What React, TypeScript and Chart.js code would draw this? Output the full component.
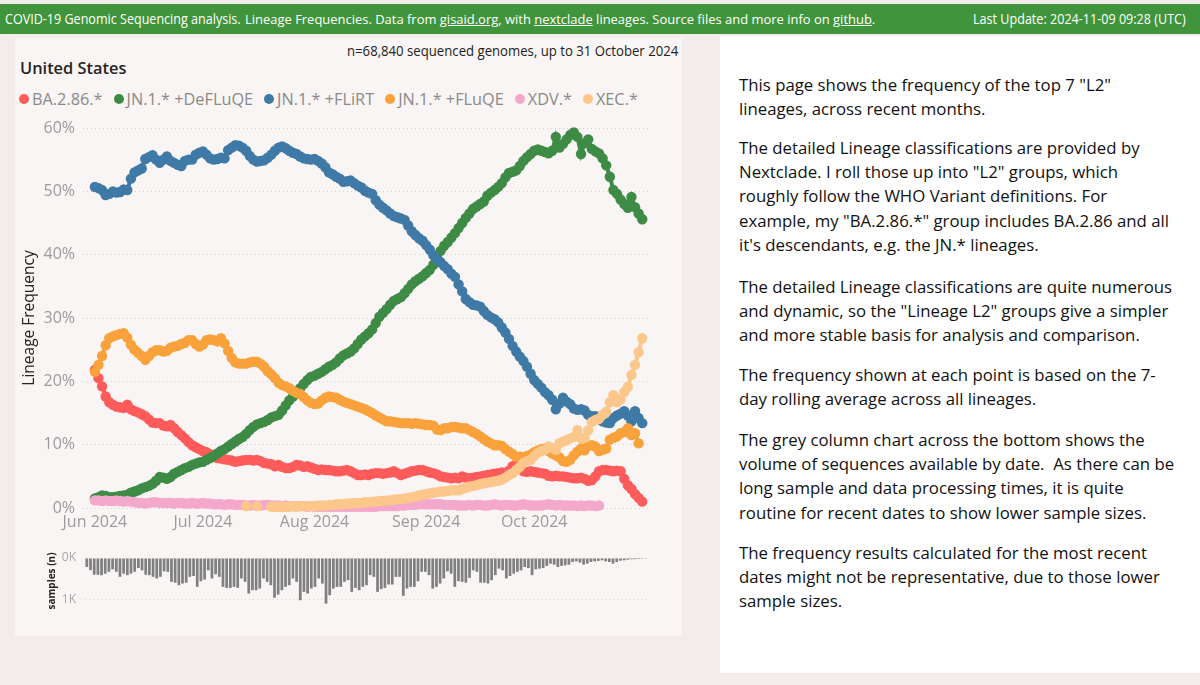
import React, { useEffect, useLayoutEffect, useRef, useState } from 'react';
import { Chart, registerables } from 'chart.js';

Chart.register(...registerables);
Chart.defaults.font.family = '"Open Sans", sans-serif';

// ---------------- data ----------------
const SERIES_NAMES = ['BA.2.86.*', 'JN.1.* +DeFLuQE', 'JN.1.* +FLiRT', 'JN.1.* +FLuQE', 'XDV.*', 'XEC.*'];
const SERIES_COLORS = ['#FF5B5B', '#3E8B45', '#3F7AA7', '#F9A13B', '#F4A8CC', '#FCC78B'];
// day index (0 = 1 Jun 2024) of each series' first value
const SERIES_FIRST_DAY = [0, 0, 0, 0, 0, 42];

const X_TICK_DAYS = [0, 30, 61, 92, 122];
const X_TICK_LABELS = ['Jun 2024', 'Jul 2024', 'Aug 2024', 'Sep 2024', 'Oct 2024'];
const Y_TICKS = [0, 10, 20, 30, 40, 50, 60];
const SAMPLE_TICKS = [0, 1000];
const SAMPLE_TICK_LABELS = ['0K', '1K'];

// lineage frequency (%) per day, 1 Jun .. 31 Oct 2024
const BA286 = [
  21.8, 20.5, 19.2, 17.6, 16.7, 16.3, 16.0, 15.9, 15.8, 16.3,
  15.6, 15.3, 15.1, 14.8, 14.5, 14.0, 13.5, 13.4, 13.4, 13.0,
  12.9, 13.1, 12.6, 12.0, 11.5, 11.0, 10.4, 9.9, 9.6, 9.3,
  9.0, 8.8, 8.5, 8.2, 7.9, 7.8, 7.7, 7.6, 7.5, 7.3,
  7.4, 7.5, 7.6, 7.6, 7.5, 7.6, 7.4, 7.1, 7.0, 6.9,
  6.6, 6.8, 6.5, 6.3, 6.3, 6.5, 6.8, 6.7, 6.5, 6.6,
  6.4, 6.2, 6.0, 6.1, 6.0, 6.0, 5.9, 5.8, 5.8, 5.9,
  6.0, 5.8, 5.5, 5.2, 5.2, 5.3, 5.2, 5.4, 5.5, 5.5,
  5.4, 5.5, 5.6, 5.8, 5.5, 5.2, 5.4, 5.6, 5.8, 5.9,
  6.0, 6.0, 5.8, 5.6, 5.5, 5.3, 5.0, 4.9, 4.8, 4.7,
  4.8, 4.7, 5.0, 4.8, 4.7, 4.8, 4.9, 5.0, 5.1, 5.2,
  5.3, 5.4, 5.5, 5.6, 5.5, 5.9, 6.6, 6.8, 6.6, 5.8,
  5.7, 5.8, 5.7, 5.6, 5.5, 5.4, 5.1, 5.0, 5.1, 5.0,
  5.0, 4.9, 4.8, 4.7, 4.7, 4.8, 4.6, 4.3, 4.4, 5.0,
  5.8, 6.0, 6.0, 5.9, 5.8, 5.9, 5.8, 4.6, 3.6, 3.0,
  2.2, 1.6, 1.0,
];
const DEFLUQE = [
  1.5, 1.7, 2.0, 1.9, 1.7, 1.7, 1.8, 1.9, 2.0, 2.1,
  2.4, 2.6, 2.8, 3.1, 3.3, 3.5, 3.8, 4.3, 4.9, 4.8,
  4.6, 4.9, 5.4, 5.7, 6.0, 6.3, 6.5, 6.8, 7.0, 7.2,
  7.3, 7.6, 7.9, 8.2, 8.6, 9.0, 9.3, 9.7, 10.1, 10.5,
  10.9, 11.2, 11.7, 12.3, 12.8, 13.2, 13.4, 13.6, 13.9, 14.3,
  14.5, 14.7, 15.4, 16.2, 17.0, 17.6, 18.1, 18.9, 19.6, 20.2,
  20.7, 20.9, 21.2, 21.5, 21.9, 22.3, 22.6, 23.0, 23.6, 24.1,
  24.4, 24.7, 25.2, 25.9, 26.6, 27.1, 27.6, 28.2, 29.2, 30.2,
  30.8, 31.4, 32.1, 32.7, 33.0, 33.3, 33.9, 34.6, 35.3, 35.8,
  36.2, 36.6, 37.1, 37.6, 38.4, 39.5, 40.6, 41.4, 42.0, 42.7,
  43.4, 44.2, 45.0, 45.8, 46.5, 47.2, 47.6, 48.0, 48.4, 49.3,
  49.8, 50.2, 50.7, 51.3, 52.2, 52.9, 53.1, 53.3, 54.0, 54.8,
  55.4, 55.9, 56.4, 56.6, 56.4, 56.2, 56.0, 56.4, 58.6, 56.9,
  57.5, 58.2, 58.9, 59.3, 58.6, 55.9, 57.6, 58.2, 56.7, 56.3,
  56.0, 55.2, 54.1, 52.3, 50.2, 49.6, 48.7, 48.0, 47.4, 49.1,
  47.5, 46.5, 45.6,
];
const FLIRT = [
  50.7, 50.5, 50.2, 49.4, 49.6, 50.0, 49.8, 49.9, 50.3, 50.2,
  52.0, 53.0, 53.3, 53.6, 55.1, 55.4, 55.7, 55.0, 54.5, 55.0,
  55.5, 54.8, 54.5, 54.2, 54.0, 54.8, 55.0, 55.0, 55.8, 56.1,
  56.3, 55.8, 55.2, 55.0, 55.1, 55.3, 55.2, 56.5, 56.9, 57.3,
  57.2, 56.9, 56.4, 55.6, 55.0, 54.7, 54.8, 54.9, 55.3, 55.8,
  56.4, 56.9, 57.1, 56.8, 56.4, 56.1, 55.9, 55.5, 55.2, 55.1,
  55.0, 55.1, 54.8, 54.4, 53.8, 53.0, 52.7, 52.3, 52.0, 51.5,
  51.6, 51.7, 51.3, 50.9, 50.6, 50.1, 49.8, 49.6, 48.6, 47.9,
  47.4, 47.0, 46.5, 46.1, 45.9, 45.7, 45.5, 44.6, 43.7, 43.1,
  42.6, 42.2, 41.5, 40.8, 39.9, 39.3, 38.8, 38.2, 37.7, 37.0,
  36.5, 35.3, 34.2, 33.0, 32.5, 32.1, 32.0, 31.8, 31.1, 30.5,
  30.1, 29.8, 29.3, 28.5, 27.7, 26.7, 25.6, 24.7, 23.9, 23.2,
  22.3, 21.2, 20.2, 19.6, 19.0, 18.3, 17.8, 17.1, 15.6, 16.5,
  17.4, 16.8, 16.4, 15.7, 15.5, 15.6, 15.4, 14.7, 14.5, 14.5,
  14.2, 13.7, 13.5, 13.4, 14.2, 14.6, 14.9, 15.3, 14.6, 13.7,
  15.3, 14.2, 13.4,
];
const FLUQE = [
  21.5, 22.6, 24.0, 25.7, 26.8, 27.1, 27.3, 27.5, 27.6, 26.9,
  25.8, 25.0, 24.5, 24.0, 23.4, 24.0, 24.6, 24.9, 24.9, 24.7,
  24.8, 25.3, 25.5, 25.6, 25.9, 26.1, 26.5, 26.5, 25.9, 25.5,
  25.8, 26.5, 26.6, 26.5, 26.3, 26.8, 26.0, 24.8, 23.7, 23.0,
  22.8, 22.8, 22.8, 23.0, 23.1, 23.1, 22.8, 22.3, 21.6, 21.1,
  20.5, 19.8, 19.4, 19.2, 18.9, 18.5, 18.2, 18.0, 17.5, 17.0,
  16.6, 16.4, 16.5, 17.0, 17.4, 17.6, 17.5, 17.4, 17.1, 16.8,
  16.6, 16.4, 16.2, 16.0, 15.8, 15.6, 15.3, 15.0, 14.6, 14.3,
  14.0, 13.7, 13.7, 13.6, 13.5, 13.4, 13.4, 13.4, 13.3, 13.4,
  13.3, 13.2, 13.1, 13.1, 13.0, 12.4, 12.3, 12.6, 12.6, 12.8,
  12.8, 12.7, 12.6, 12.6, 12.3, 12.0, 11.7, 11.3, 10.9, 10.5,
  10.2, 9.9, 9.9, 9.8, 9.3, 8.9, 8.5, 8.1, 8.1, 8.0,
  8.2, 8.4, 8.8, 9.1, 9.3, 9.4, 9.0, 8.6, 8.3, 8.0,
  7.4, 7.3, 7.6, 8.3, 8.9, 9.4, 9.1, 9.8, 9.9, 9.7,
  9.0, 9.2, 9.4, 10.8, 11.1, 11.3, 11.8, 12.0, 12.6, 11.5,
  11.8, 10.2,
];
const XDV = [
  1.2, 1.2, 1.1, 1.2, 1.1, 1.1, 1.2, 1.1, 1.0, 1.1,
  1.0, 0.9, 0.8, 0.8, 0.7, 0.8, 0.9, 0.9, 0.8, 0.8,
  0.8, 0.8, 0.7, 0.8, 0.8, 0.7, 0.7, 0.8, 0.7, 0.7,
  0.8, 0.7, 0.7, 0.6, 0.6, 0.6, 0.5, 0.6, 0.6, 0.5,
  0.5, 0.5, 0.4, 0.4, 0.5, 0.4, 0.4, 0.5, 0.5, 0.4,
  0.4, 0.4, 0.3, 0.4, 0.3, 0.3, 0.3, 0.3, 0.3, 0.2,
  0.3, 0.2, 0.2, 0.2, 0.2, 0.2, 0.2, 0.2, 0.2, 0.2,
  0.2, 0.2, 0.2, 0.2, 0.2, 0.2, 0.2, 0.2, 0.2, 0.3,
  0.3, 0.3, 0.3, 0.3, 0.3, 0.4, 0.4, 0.5, 0.5, 0.5,
  0.6, 0.6, 0.6, 0.6, 0.6, 0.6, 0.6, 0.5, 0.5, 0.5,
  0.5, 0.4, 0.4, 0.4, 0.5, 0.4, 0.5, 0.5, 0.4, 0.4,
  0.5, 0.6, 0.5, 0.4, 0.5, 0.5, 0.4, 0.4, 0.5, 0.6,
  0.5, 0.4, 0.4, 0.4, 0.4, 0.5, 0.6, 0.5, 0.4, 0.5,
  0.4, 0.4, 0.4, 0.4, 0.3, 0.4, 0.3, 0.4, 0.4, 0.3,
  0.4,
];
// XEC.* starts on day 42 (13 Jul); null = no sequences that day
const XEC = [
  0.3, null, null, 0.3, null, null, null, 0.2,
  0.2, 0.2, 0.2, 0.2, 0.2, 0.3, 0.2, 0.3, 0.3, 0.3,
  0.3, 0.3, 0.4, 0.4, 0.4, 0.5, 0.5, 0.6, 0.6, 0.6,
  0.7, 0.7, 0.8, 0.8, 0.8, 0.9, 0.9, 1.0, 1.0, 1.1,
  1.1, 1.2, 1.2, 1.3, 1.4, 1.4, 1.5, 1.6, 1.7, 1.8,
  2.0, 2.1, 2.2, 2.3, 2.4, 2.5, 2.6, 2.6, 2.7, 2.8,
  2.8, 2.8, 3.0, 3.2, 3.4, 3.5, 3.6, 3.8, 3.9, 4.0,
  4.1, 4.2, 4.3, 4.5, 4.8, 5.2, 5.5, 6.0, 6.5, 7.1,
  7.4, 7.6, 8.2, 8.7, 9.0, 9.2, 9.7, 9.5, 9.2, 10.2,
  10.5, 10.7, 11.0, 11.2, 12.3, 11.0, 11.1, 12.3, 13.6, 13.9,
  14.1, 14.7, 15.2, 16.7, 17.8, 16.7, 17.2, 18.3, 19.1, 21.0,
  22.6, 24.6, 26.8,
];

// sequenced samples per day, 1 Jun .. 31 Oct 2024
const SAMPLES = [
  215, 290, 400, 400, 410, 375, 330, 270, 330, 450,
  375, 410, 375, 330, 240, 295, 400, 410, 450, 490,
  450, 320, 330, 570, 590, 650, 610, 590, 450, 430,
  690, 555, 515, 295, 490, 390, 450, 690, 715, 715,
  690, 715, 490, 570, 850, 770, 770, 730, 490, 570,
  650, 950, 875, 770, 690, 650, 490, 570, 1010, 810,
  850, 730, 690, 490, 610, 1090, 890, 730, 690, 690,
  570, 530, 810, 715, 770, 690, 650, 410, 450, 810,
  745, 715, 635, 635, 450, 450, 905, 730, 690, 690,
  555, 330, 330, 410, 730, 690, 610, 490, 320, 375,
  690, 555, 570, 590, 475, 295, 330, 590, 590, 610,
  530, 410, 255, 295, 490, 430, 375, 330, 295, 215,
  240, 410, 270, 255, 240, 190, 135, 160, 215, 190,
  175, 160, 95, 80, 110, 160, 135, 95, 80, 70,
  55, 80, 95, 135, 95, 65, 55, 40, 30, 30,
  25, 20, 15,
];

const SERIES_VALUES = [BA286, DEFLUQE, FLIRT, FLUQE, XDV, XEC];

const RIGHT_PARAGRAPHS = [
  ['This page shows the frequency of the top 7 "L2"', 'lineages, across recent months.'],
  [
    'The detailed Lineage classifications are provided by',
    'Nextclade. I roll those up into "L2" groups, which',
    'roughly follow the WHO Variant definitions. For',
    'example, my "BA.2.86.*" group includes BA.2.86 and all',
    "it's descendants, e.g. the JN.* lineages.",
  ],
  [
    'The detailed Lineage classifications are quite numerous',
    'and dynamic, so the "Lineage L2" groups give a simpler',
    'and more stable basis for analysis and comparison.',
  ],
  ['The frequency shown at each point is based on the 7-', 'day rolling average across all lineages.'],
  [
    'The grey column chart across the bottom shows the',
    'volume of sequences available by date.  As there can be',
    'long sample and data processing times, it is quite',
    'routine for recent dates to show lower sample sizes.',
  ],
  [
    'The frequency results calculated for the most recent',
    'dates might not be representative, due to those lower',
    'sample sizes.',
  ],
];
const PARAGRAPH_TOPS = [73, 136, 275, 363, 428, 541];

// ---------------- helpers ----------------
function Fit(props: { width: number; style?: React.CSSProperties; children: React.ReactNode }) {
  const ref = useRef<HTMLSpanElement>(null);
  const [k, setK] = useState(1);
  useLayoutEffect(() => {
    const el = ref.current;
    if (!el) return;
    const w = el.offsetWidth;
    if (w > 0) setK(props.width / w);
  }, [props.width]);
  return (
    <span
      ref={ref}
      style={{
        display: 'inline-block',
        whiteSpace: 'pre',
        transformOrigin: '0 50%',
        transform: `scaleX(${k})`,
        ...props.style,
      }}
    >
      {props.children}
    </span>
  );
}

function FrequencyChart() {
  const ref = useRef<HTMLCanvasElement>(null);
  useEffect(() => {
    const n = SERIES_VALUES.length;
    const datasets = SERIES_VALUES.map((vals, s) => ({
      label: SERIES_NAMES[s],
      data: vals.map((v, i) => ({ x: SERIES_FIRST_DAY[s] + i, y: v })),
      borderColor: SERIES_COLORS[s],
      backgroundColor: SERIES_COLORS[s],
      pointBackgroundColor: SERIES_COLORS[s],
      pointBorderWidth: 0,
      pointRadius: 5.2,
      pointHoverRadius: 5.2,
      borderWidth: 4,
      tension: 0,
      spanGaps: false,
      clip: false as any,
      order: n - s,
    }));
    const chart = new Chart(ref.current as HTMLCanvasElement, {
      type: 'line',
      data: { datasets: datasets as any },
      options: {
        responsive: false,
        animation: false,
        events: [],
        layout: { padding: { left: 0, right: 34, top: 18, bottom: 0 } },
        plugins: { legend: { display: false }, tooltip: { enabled: false } },
        scales: {
          x: {
            type: 'linear',
            min: -3.3,
            max: 153.6,
            afterBuildTicks: (s: any) => {
              s.ticks = X_TICK_DAYS.map((v) => ({ value: v }));
            },
            afterFit: (s: any) => {
              s.height = 32;
            },
            ticks: {
              autoSkip: false,
              maxRotation: 0,
              minRotation: 0,
              color: '#9b9b9b',
              font: { size: 16 },
              padding: 5,
              callback: (v: any) => {
                const k = X_TICK_DAYS.indexOf(Number(v));
                return k >= 0 ? X_TICK_LABELS[k] : '';
              },
            },
            grid: { display: false, drawTicks: false },
            border: { display: false },
          },
          y: {
            type: 'linear',
            min: 0,
            max: 60,
            afterBuildTicks: (s: any) => {
              s.ticks = Y_TICKS.map((v) => ({ value: v }));
            },
            afterFit: (s: any) => {
              s.width = 68;
            },
            ticks: {
              color: '#9b9b9b',
              font: { size: 16 },
              padding: 8,
              callback: (v: any) => v + '%',
            },
            grid: { color: '#d6d2d2', lineWidth: 1, drawTicks: false },
            border: { display: false, dash: [1, 3] },
            title: {
              display: true,
              text: 'Lineage Frequency',
              color: '#252423',
              font: { size: 15.5 },
              padding: { top: 5, bottom: 0 },
            },
          },
        },
      },
    });
    return () => chart.destroy();
  }, []);
  return (
    <canvas
      ref={ref}
      width={667}
      height={430}
      style={{ position: 'absolute', left: 15, top: 110, width: 667, height: 430 }}
    />
  );
}

function SamplesChart() {
  const ref = useRef<HTMLCanvasElement>(null);
  useEffect(() => {
    const chart = new Chart(ref.current as HTMLCanvasElement, {
      type: 'bar',
      data: {
        labels: SAMPLES.map((_, i) => String(i)),
        datasets: [
          {
            label: 'samples',
            data: SAMPLES,
            backgroundColor: '#7f7f7f',
            borderWidth: 0,
            barPercentage: 0.74,
            categoryPercentage: 1,
          },
        ],
      },
      options: {
        responsive: false,
        animation: false,
        events: [],
        layout: { padding: { left: 0, right: 34, top: 17, bottom: 17 } },
        plugins: { legend: { display: false }, tooltip: { enabled: false } },
        scales: {
          x: { display: false },
          y: {
            reverse: true,
            min: 0,
            max: 1100,
            afterBuildTicks: (s: any) => {
              s.ticks = SAMPLE_TICKS.map((v) => ({ value: v }));
            },
            afterFit: (s: any) => {
              s.width = 70;
            },
            ticks: {
              color: '#a8a8a8',
              font: { size: 12 },
              padding: 9,
              callback: (v: any) => {
                const k = SAMPLE_TICKS.indexOf(Number(v));
                return k >= 0 ? SAMPLE_TICK_LABELS[k] : '';
              },
            },
            grid: { color: '#d6d2d2', lineWidth: 1, drawTicks: false },
            border: { display: false, dash: [1, 3] },
            title: {
              display: true,
              text: 'samples (n)',
              color: '#252423',
              font: { size: 10, weight: 'bold' },
              padding: { top: 31, bottom: 0 },
            },
          },
        },
      },
    });
    return () => chart.destroy();
  }, []);
  return (
    <canvas
      ref={ref}
      width={667}
      height={80}
      style={{ position: 'absolute', left: 15, top: 541, width: 667, height: 80 }}
    />
  );
}

function Legend() {
  return (
    <div
      style={{
        position: 'absolute',
        left: 19,
        top: 88,
        height: 22,
        display: 'flex',
        alignItems: 'center',
        whiteSpace: 'nowrap',
        fontSize: 16.3,
        color: '#8a8a8a',
      }}
    >
      {SERIES_NAMES.map((name, i) => (
        <span key={name} style={{ display: 'flex', alignItems: 'center', marginRight: 11 }}>
          <span
            style={{
              width: 10,
              height: 10,
              borderRadius: 5,
              background: SERIES_COLORS[i],
              marginRight: 3,
              display: 'inline-block',
            }}
          />
          <span>{name}</span>
        </span>
      ))}
    </div>
  );
}

export default function App() {
  return (
    <div
      style={{
        position: 'absolute',
        left: 0,
        top: 0,
        width: 1200,
        height: 685,
        overflow: 'hidden',
        background: '#f3ebec',
        fontFamily: '"Open Sans", sans-serif',
      }}
    >
      {/* header */}
      <div
        style={{
          position: 'absolute',
          left: 0,
          top: 4,
          width: 1200,
          height: 30,
          background: '#40953c',
          color: '#ffffff',
        }}
      >
        <div style={{ position: 'absolute', left: 5, top: 0, height: 30, lineHeight: '30px', fontSize: 14 }}>
          <Fit width={236}>COVID-19 Genomic Sequencing analysis.</Fit>
        </div>
        <div style={{ position: 'absolute', left: 245, top: 0, height: 30, lineHeight: '30px', fontSize: 13 }}>
          <Fit width={630}>
            Lineage Frequencies. Data from <u>gisaid.org</u>, with <u>nextclade</u> lineages. Source files and more
            info on <u>github</u>.
          </Fit>
        </div>
        <div style={{ position: 'absolute', left: 973, top: 0, height: 30, lineHeight: '30px', fontSize: 14 }}>
          <Fit width={213}>Last Update: 2024-11-09 09:28 (UTC)</Fit>
        </div>
      </div>

      {/* left panel */}
      <div style={{ position: 'absolute', left: 15, top: 38, width: 667, height: 598, background: '#f8f5f4' }} />
      <div style={{ position: 'absolute', left: 347, top: 41, height: 20, lineHeight: '20px', fontSize: 14, color: '#222' }}>
        <Fit width={331}>n=68,840 sequenced genomes, up to 31 October 2024</Fit>
      </div>
      <div
        style={{
          position: 'absolute',
          left: 20,
          top: 57,
          height: 22,
          lineHeight: '22px',
          fontSize: 17,
          fontWeight: 600,
          color: '#252423',
        }}
      >
        <Fit width={106}>United States</Fit>
      </div>
      <Legend />
      <FrequencyChart />
      <SamplesChart />

      {/* right panel */}
      <div style={{ position: 'absolute', left: 720, top: 36, width: 480, height: 637, background: '#ffffff' }} />
      {RIGHT_PARAGRAPHS.map((lines, p) => (
        <div
          key={p}
          style={{
            position: 'absolute',
            left: 739,
            top: PARAGRAPH_TOPS[p],
            fontSize: 16.8,
            lineHeight: '24.2px',
            color: '#111111',
            whiteSpace: 'pre',
          }}
        >
          {lines.map((ln, i) => (
            <div key={i}>{ln}</div>
          ))}
        </div>
      ))}
    </div>
  );
}
